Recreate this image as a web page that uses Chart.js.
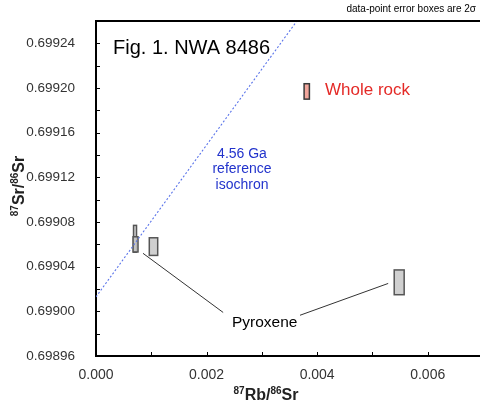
<!DOCTYPE html>
<html>
<head>
<meta charset="utf-8">
<script src="https://cdn.jsdelivr.net/npm/chart.js@4.4.1/dist/chart.umd.min.js"></script>
<style>
  html, body { margin: 0; padding: 0; background: #fff; overflow: hidden; }
  #wrap { width: 480px; height: 404px; overflow: hidden; }
</style>
</head>
<body>
<div id="wrap"><canvas id="c" width="483" height="404"></canvas></div>
<script>
// NWA 8486 Rb-Sr data (2 sigma boxes)
const samples = ['Pyroxene', 'Pyroxene', 'Pyroxene', 'Pyroxene', 'Whole rock'];
const rbSr = [0.000706, 0.000715, 0.00104, 0.005484, 0.003812];
const rbSrErr = [0.000027, 0.000045, 0.000076, 0.00009, 0.000048];
const srSr = [0.699065, 0.699060, 0.699058, 0.699026, 0.699197];
const srSrErr = [0.000012, 0.0000068, 0.0000079, 0.0000111, 0.0000069];

// 4.56 Ga reference isochron (two end points)
const isochronX = [0, 0.0040];
const isochronY = [0.699013, 0.699285];

// leader lines from the "Pyroxene" label to the boxes
const leaderA = [[0.00085, 0.699052], [0.0023, 0.698999]];
const leaderB = [[0.00369, 0.6989965], [0.005285, 0.699025]];

const xTicks = [0.000, 0.002, 0.004, 0.006];
const yTicks = [0.69896, 0.69900, 0.69904, 0.69908, 0.69912, 0.69916, 0.69920, 0.69924];

const FONT = '"Liberation Sans", Arial, sans-serif';
Chart.defaults.font.family = FONT;

const toPts = (xs, ys) => xs.map((x, i) => ({ x, y: ys[i] }));

// error boxes
const boxPlugin = {
  id: 'boxes',
  beforeDatasetsDraw (chart) {
    const { ctx, scales: { x, y } } = chart;
    ctx.save();
    rbSr.forEach((v, i) => {
      const x0 = x.getPixelForValue(v - rbSrErr[i]);
      const x1 = x.getPixelForValue(v + rbSrErr[i]);
      const y0 = y.getPixelForValue(srSr[i] + srSrErr[i]);
      const y1 = y.getPixelForValue(srSr[i] - srSrErr[i]);
      const whole = samples[i] === 'Whole rock';
      ctx.fillStyle = whole ? '#f2a69c' : 'rgba(200,200,200,0.85)';
      ctx.strokeStyle = whole ? '#3a3a3a' : '#555';
      ctx.lineWidth = 1.5;
      ctx.fillRect(x0, y0, x1 - x0, y1 - y0);
      ctx.strokeRect(x0, y0, x1 - x0, y1 - y0);
    });
    ctx.restore();
  }
};

// text with superscripts, centred at (cx, cy)
function supText (ctx, parts, cx, cy, angle) {
  const big = 'bold 16px ' + FONT;
  const small = 'bold 10px ' + FONT;
  let w = 0;
  parts.forEach(p => { ctx.font = p[1] ? small : big; w += ctx.measureText(p[0]).width; });
  ctx.save();
  ctx.translate(cx, cy);
  ctx.rotate(angle);
  ctx.textBaseline = 'alphabetic';
  ctx.textAlign = 'left';
  let px = -w / 2;
  parts.forEach(p => {
    ctx.font = p[1] ? small : big;
    ctx.fillText(p[0], px, p[1] ? -0.5 : 6);
    px += ctx.measureText(p[0]).width;
  });
  ctx.restore();
}

const decoPlugin = {
  id: 'deco',
  afterDraw (chart) {
    const { ctx, chartArea: a, scales: { x, y } } = chart;
    ctx.save();
    // top frame line
    ctx.strokeStyle = '#000';
    ctx.lineWidth = 2;
    ctx.beginPath();
    ctx.moveTo(a.left, a.top);
    ctx.lineTo(a.right, a.top);
    ctx.stroke();

    // inward tick marks (major + minor)
    ctx.lineWidth = 1;
    ctx.beginPath();
    for (let k = 1; k < 7; k++) {
      const px = Math.round(x.getPixelForValue(k * 0.001)) + 0.5;
      ctx.moveTo(px, a.bottom);
      ctx.lineTo(px, a.bottom - 4);
    }
    for (let k = 1; k < 15; k++) {
      const py = Math.round(y.getPixelForValue(0.69896 + k * 0.00002)) + 0.5;
      ctx.moveTo(a.left, py);
      ctx.lineTo(a.left + 4, py);
    }
    ctx.stroke();

    // labels
    ctx.fillStyle = '#000';
    ctx.textBaseline = 'middle';
    ctx.textAlign = 'left';
    ctx.font = '20px ' + FONT;
    ctx.fillText('Fig. 1. NWA 8486', 113, 48);

    ctx.fillStyle = '#e42a27';
    ctx.font = '17px ' + FONT;
    ctx.fillText('Whole rock', 325, 90);

    ctx.fillStyle = '#000';
    ctx.font = '15.5px ' + FONT;
    ctx.fillText('Pyroxene', 232, 323);

    ctx.fillStyle = '#2233cc';
    ctx.font = '14px ' + FONT;
    ctx.textAlign = 'center';
    ['4.56 Ga', 'reference', 'isochron'].forEach((t, i) => ctx.fillText(t, 242, 154 + i * 15.5));

    ctx.fillStyle = '#000';
    ctx.font = '10px ' + FONT;
    ctx.textAlign = 'right';
    ctx.fillText('data-point error boxes are 2\u03c3', 476, 9);

    // axis titles
    ctx.fillStyle = '#222';
    supText(ctx, [['87', true], ['Rb/', false], ['86', true], ['Sr', false]], 266, 394, 0);
    supText(ctx, [['87', true], ['Sr/', false], ['86', true], ['Sr', false]], 18, 186, -Math.PI / 2);
    ctx.restore();
  }
};

const chart = new Chart(document.getElementById('c'), {
  type: 'scatter',
  data: {
    datasets: [
      {
        label: '4.56 Ga reference isochron',
        data: toPts(isochronX, isochronY),
        showLine: true,
        borderColor: '#5a74ea',
        borderWidth: 1.1,
        borderDash: [2, 2],
        pointRadius: 0
      },
      {
        label: 'leader A',
        data: leaderA.map(p => ({ x: p[0], y: p[1] })),
        showLine: true,
        borderColor: '#333',
        borderWidth: 1,
        pointRadius: 0
      },
      {
        label: 'leader B',
        data: leaderB.map(p => ({ x: p[0], y: p[1] })),
        showLine: true,
        borderColor: '#333',
        borderWidth: 1,
        pointRadius: 0
      },
      {
        label: 'samples',
        data: toPts(rbSr, srSr),
        pointRadius: 0
      }
    ]
  },
  options: {
    responsive: false,
    animation: false,
    layout: { padding: { top: 20, right: 0, left: 0, bottom: 0 } },
    plugins: { legend: { display: false }, tooltip: { enabled: false } },
    scales: {
      x: {
        type: 'linear',
        min: 0,
        max: 0.007,
        grid: { display: false },
        border: { display: true, color: '#000', width: 2 },
        ticks: { padding: 3, color: '#333', font: { size: 14 }, callback: v => v.toFixed(3) },
        afterBuildTicks: s => { s.ticks = xTicks.map(v => ({ value: v })); },
        afterFit: s => { s.height = 48; }
      },
      y: {
        type: 'linear',
        min: 0.69896,
        max: 0.69926,
        grid: { display: false },
        border: { display: true, color: '#000', width: 2 },
        ticks: { padding: 13, color: '#333', font: { size: 13.5 }, callback: v => v.toFixed(5) },
        afterBuildTicks: s => { s.ticks = yTicks.map(v => ({ value: v })); },
        afterFit: s => { s.height = s.height; s.width = 96; }
      }
    }
  },
  plugins: [boxPlugin, decoPlugin]
});
</script>
</body>
</html>
